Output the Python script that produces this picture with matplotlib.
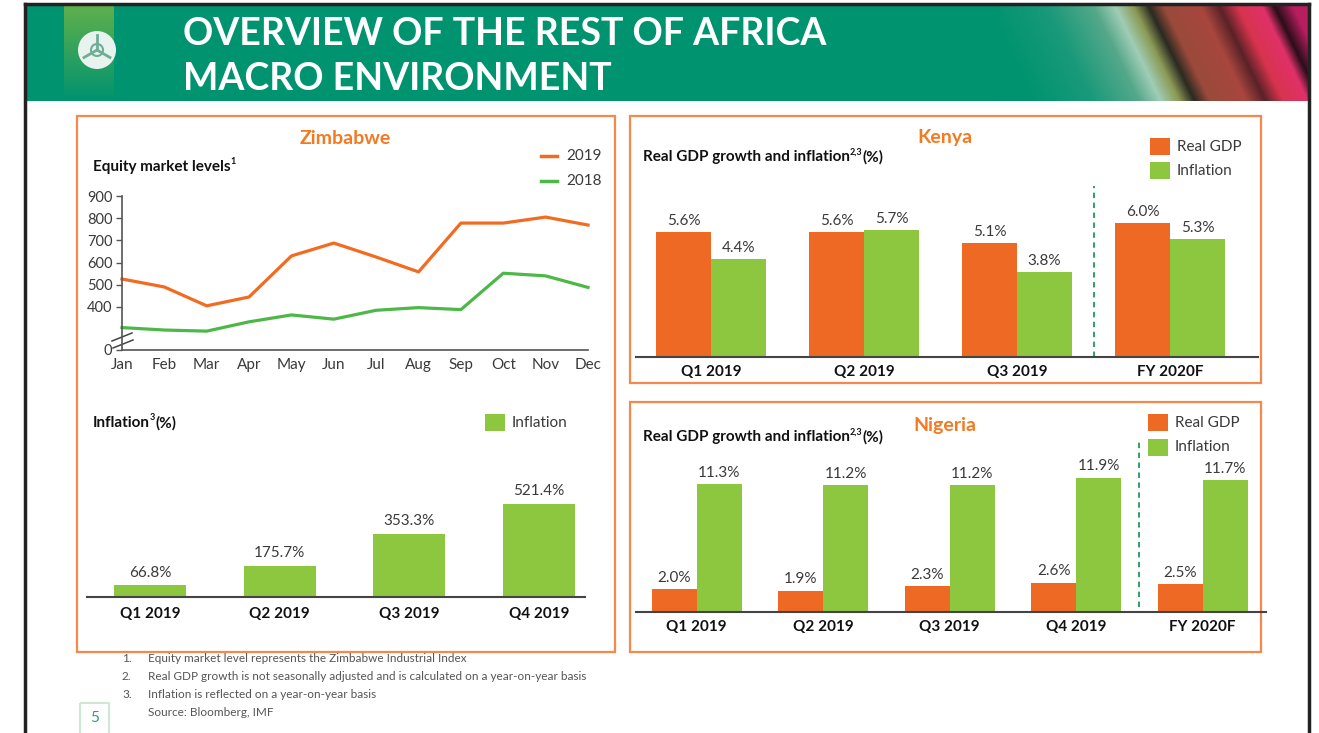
import numpy as np
import matplotlib
matplotlib.use('Agg')
import matplotlib.pyplot as plt
from matplotlib.patches import Rectangle, Circle
from matplotlib.colors import LinearSegmentedColormap, to_rgb

# ---------------- data ----------------
months = ['Jan', 'Feb', 'Mar', 'Apr', 'May', 'Jun', 'Jul', 'Aug', 'Sep', 'Oct', 'Nov', 'Dec']
equity_2019 = [526, 490, 405, 445, 630, 688, 625, 558, 778, 778, 805, 769]
equity_2018 = [307, 296, 291, 333, 364, 345, 385, 397, 388, 552, 540, 488]
equity_ticks = [400, 500, 600, 700, 800, 900]

zim_quarters = ['Q1 2019', 'Q2 2019', 'Q3 2019', 'Q4 2019']
zim_inflation = [66.8, 175.7, 353.3, 521.4]

kenya_periods = ['Q1 2019', 'Q2 2019', 'Q3 2019', 'FY 2020F']
kenya_gdp = [5.6, 5.6, 5.1, 6.0]
kenya_infl = [4.4, 5.7, 3.8, 5.3]

nigeria_periods = ['Q1 2019', 'Q2 2019', 'Q3 2019', 'Q4 2019', 'FY 2020F']
nigeria_gdp = [2.0, 1.9, 2.3, 2.6, 2.5]
nigeria_infl = [11.3, 11.2, 11.2, 11.9, 11.7]

footnotes = ['Equity market level represents the Zimbabwe Industrial Index',
             'Real GDP growth is not seasonally adjusted and is calculated on a year-on-year basis',
             'Inflation is reflected on a year-on-year basis']
source = 'Source: Bloomberg, IMF'

# ---------------- style ----------------
W, H = 1319, 733
plt.rcParams['font.family'] = ['Lato', 'DejaVu Sans']
ORANGE = '#EE6A24'
BAR_GREEN = '#8DC63F'
LINE_ORANGE = '#F26B21'
LINE_GREEN = '#4DB848'
PANEL = '#F5884A'
TITLE_OR = '#F47A22'
HEADER = '#00936F'
TXT = '#3A3A3A'

fig = plt.figure(figsize=(W / 100, H / 100), dpi=100)
bg = fig.add_axes([0, 0, 1, 1], zorder=0)
bg.set_xlim(0, W)
bg.set_ylim(H, 0)
bg.axis('off')


def add_ax(x0, y0, x1, y1):
    ax = fig.add_axes([x0 / W, 1 - y1 / H, (x1 - x0) / W, (y1 - y0) / H], zorder=2)
    ax.set_facecolor('none')
    return ax


# ---------------- header ----------------
bg.add_patch(Rectangle((26, 5), 1283, 96, facecolor=HEADER, edgecolor='none'))
col = np.linspace(0, 1, 60)[:, None]
c_top = np.array(to_rgb('#5FB04C'))
c_bot = np.array(to_rgb(HEADER))
col_img = c_top[None, None, :] * (1 - col[..., None]) + c_bot[None, None, :] * col[..., None]
col_img = np.repeat(col_img, 10, axis=1)
bg.imshow(col_img, extent=(64, 114, 101, 5), aspect='auto', zorder=1)

gx = np.linspace(0, 1, 320)[None, :]
gy = np.linspace(0, 1, 100)[:, None]
t = np.clip(gx - 0.15 * gy + 0.05, 0, 1)
cmap = LinearSegmentedColormap.from_list('hdr', [
    (0.00, HEADER), (0.20, '#1A9A7A'), (0.35, '#55A88A'), (0.42, '#9FCDB6'),
    (0.48, '#8C9A55'), (0.53, '#2A2A22'), (0.58, '#9A4A3A'), (0.70, '#A8463E'),
    (0.76, '#5A2228'), (0.82, '#D8344E'), (0.90, '#E0306A'), (0.94, '#2A0E1A'),
    (1.00, '#B81E5E')])
bg.imshow(cmap(t), extent=(1000, 1309, 101, 5), aspect='auto', zorder=1)

# logo
bg.add_patch(Circle((97, 50), 19, facecolor='#E8F2EE', edgecolor='none', zorder=3))
for ang in [90, 210, 330]:
    a = np.deg2rad(ang)
    bg.plot([97, 97 + 15 * np.cos(a)], [50, 50 - 15 * np.sin(a)], color='#6FAE95', lw=2, zorder=4)
bg.add_patch(Circle((97, 50), 6, facecolor='none', edgecolor='#6FAE95', lw=1.5, zorder=4))

bg.text(183, 34, 'OVERVIEW OF THE REST OF AFRICA', color='white', fontsize=27,
        fontweight='bold', va='center', ha='left', zorder=5)
bg.text(183, 79, 'MACRO ENVIRONMENT', color='white', fontsize=27,
        fontweight='bold', va='center', ha='left', zorder=5)

# slide border
bg.plot([25, 1309], [4, 4], color='#222222', lw=2.5, zorder=6)
bg.plot([25, 25], [4, 733], color='#222222', lw=2.5, zorder=6)
bg.plot([1309, 1309], [4, 733], color='#222222', lw=2.5, zorder=6)

# panels
for (x0, y0, x1, y1) in [(77, 116, 615, 652), (630, 116, 1261, 383), (630, 402, 1261, 652)]:
    bg.add_patch(Rectangle((x0, y0), x1 - x0, y1 - y0, facecolor='none', edgecolor=PANEL, lw=1.6))

for txt, x, y in [('Zimbabwe', 345, 138), ('Kenya', 945, 138), ('Nigeria', 945, 426)]:
    bg.text(x, y, txt, color=TITLE_OR, fontsize=14, fontweight='bold', ha='center', va='center')


def sup_title(x, y, main, sup, tail=''):
    t1 = bg.text(x, y, main, fontsize=11, fontweight='bold', color='#111111', va='center', ha='left')
    t2 = bg.annotate(sup, xy=(1, 0.55), xycoords=t1, fontsize=6.5, fontweight='bold',
                     color='#111111', va='bottom', ha='left')
    if tail:
        bg.annotate(tail, xy=(1, 0.5), xycoords=(t2, t1), fontsize=11, fontweight='bold',
                    color='#111111', va='center', ha='left')


sup_title(93, 167, 'Equity market levels', '1')
sup_title(93, 423, 'Inflation', '3', '(%)')
sup_title(643, 157, 'Real GDP growth and inflation', '2,3', '(%)')
sup_title(643, 437, 'Real GDP growth and inflation', '2,3', '(%)')

# ---------------- Zimbabwe equity lines ----------------
Y0 = 206  # position of the "0" label on the broken axis
ax1 = add_ax(122, 196, 588, 350)
x = np.arange(len(months))
ax1.plot(x, equity_2019, color=LINE_ORANGE, lw=2.3, clip_on=False)
ax1.plot(x, equity_2018, color=LINE_GREEN, lw=2.3, clip_on=False)
ax1.set_xlim(0, 11)
ax1.set_ylim(Y0, 900)
ax1.set_yticks([Y0] + equity_ticks)
ax1.set_yticklabels(['0'] + [str(v) for v in equity_ticks])
ax1.set_xticks(x)
ax1.set_xticklabels(months)
for s in ['top', 'right']:
    ax1.spines[s].set_visible(False)
for s in ['left', 'bottom']:
    ax1.spines[s].set_color('#555555')
    ax1.spines[s].set_linewidth(1.2)
ax1.tick_params(axis='y', length=4, width=1, color='#555555', labelsize=10.5, labelcolor=TXT, pad=3)
ax1.tick_params(axis='x', length=0, labelsize=11, labelcolor=TXT, pad=6)
bg.plot([112, 132], [341, 333], color='#444444', lw=1.1, zorder=7)
bg.plot([113, 133], [348, 340], color='#444444', lw=1.1, zorder=7)
bg.plot([541, 557], [156, 156], color=LINE_ORANGE, lw=2.5)
bg.plot([541, 557], [181, 181], color=LINE_GREEN, lw=2.5)
bg.text(566, 156, '2019', fontsize=11, color=TXT, va='center')
bg.text(566, 181, '2018', fontsize=11, color=TXT, va='center')

# ---------------- Zimbabwe inflation bars ----------------
ax2 = add_ax(87, 480, 585, 597)
xq = np.arange(len(zim_quarters))
ax2.bar(xq, zim_inflation, width=0.555, color=BAR_GREEN)
ax2.set_xlim(-0.486, 3.355)
ax2.set_ylim(0, 656)
for xi, v in zip(xq, zim_inflation):
    ax2.annotate(f'{v:.1f}%', (xi, v), xytext=(0, 4), textcoords='offset points',
                 ha='center', va='bottom', fontsize=11, color=TXT)
ax2.set_xticks(xq)
ax2.set_xticklabels(zim_quarters, fontweight='bold', fontsize=11, color='#111111')
ax2.set_yticks([])
for s in ['top', 'right', 'left']:
    ax2.spines[s].set_visible(False)
ax2.spines['bottom'].set_color('#444444')
ax2.spines['bottom'].set_linewidth(1.5)
ax2.tick_params(axis='x', length=0, pad=7)
bg.add_patch(Rectangle((485, 414), 20, 17, facecolor=BAR_GREEN, edgecolor='none'))
bg.text(512, 423, 'Inflation', fontsize=11, color=TXT, va='center')


def gdp_panel(ax, labels, gdp, infl, width, xlim, ylim, split, dash_y):
    xi = np.arange(len(labels))
    ax.bar(xi - width / 2, gdp, width=width, color=ORANGE)
    ax.bar(xi + width / 2, infl, width=width, color=BAR_GREEN)
    for i in range(len(labels)):
        ax.annotate(f'{gdp[i]:.1f}%', (xi[i] - width / 2, gdp[i]), xytext=(0, 3),
                    textcoords='offset points', ha='center', va='bottom', fontsize=11, color=TXT)
        ax.annotate(f'{infl[i]:.1f}%', (xi[i] + width / 2, infl[i]), xytext=(0, 3),
                    textcoords='offset points', ha='center', va='bottom', fontsize=11, color=TXT)
    ax.plot([split, split], dash_y, color='#1E9A5A', lw=1.3, ls=(0, (3, 2.5)), clip_on=False)
    ax.set_xlim(*xlim)
    ax.set_ylim(*ylim)
    ax.set_xticks(xi)
    ax.set_xticklabels(labels, fontweight='bold', fontsize=11, color='#111111')
    ax.set_yticks([])
    for s in ['top', 'right', 'left']:
        ax.spines[s].set_visible(False)
    ax.spines['bottom'].set_color('#444444')
    ax.spines['bottom'].set_linewidth(1.5)
    ax.tick_params(axis='x', length=0, pad=6)


# ---------------- Kenya ----------------
ax3 = add_ax(636, 186, 1258, 357)
gdp_panel(ax3, kenya_periods, kenya_gdp, kenya_infl, 0.36, (-0.49, 3.575), (0, 7.67), 2.5, [0, 7.67])
bg.add_patch(Rectangle((1150, 138), 20, 17, facecolor=ORANGE, edgecolor='none'))
bg.add_patch(Rectangle((1150, 162), 20, 17, facecolor=BAR_GREEN, edgecolor='none'))
bg.text(1177, 147, 'Real GDP', fontsize=11, color=TXT, va='center')
bg.text(1177, 171, 'Inflation', fontsize=11, color=TXT, va='center')

# ---------------- Nigeria ----------------
ax4 = add_ax(636, 440, 1266, 612)
gdp_panel(ax4, nigeria_periods, nigeria_gdp, nigeria_infl, 0.356, (-0.48, 4.5), (0, 15.22), 3.5, [0.44, 15.22])
bg.add_patch(Rectangle((1148, 414), 20, 17, facecolor=ORANGE, edgecolor='none'))
bg.add_patch(Rectangle((1148, 439), 20, 17, facecolor=BAR_GREEN, edgecolor='none'))
bg.text(1175, 423, 'Real GDP', fontsize=11, color=TXT, va='center')
bg.text(1175, 447, 'Inflation', fontsize=11, color=TXT, va='center')

# ---------------- footnotes ----------------
for i, note in enumerate(footnotes):
    y = 659 + 18 * i
    bg.text(122, y, f'{i + 1}.', fontsize=8.5, color='#555555', va='center')
    bg.text(148, y, note, fontsize=8.5, color='#555555', va='center')
bg.text(148, 713, source, fontsize=8.5, color='#555555', va='center')
bg.add_patch(Rectangle((80, 703), 29, 34, facecolor='none', edgecolor='#CFE8D2', lw=1.5))
bg.text(94.5, 718, '5', fontsize=11, color='#2E9E7A', ha='center', va='center')

fig.savefig('out.png', dpi=100)
